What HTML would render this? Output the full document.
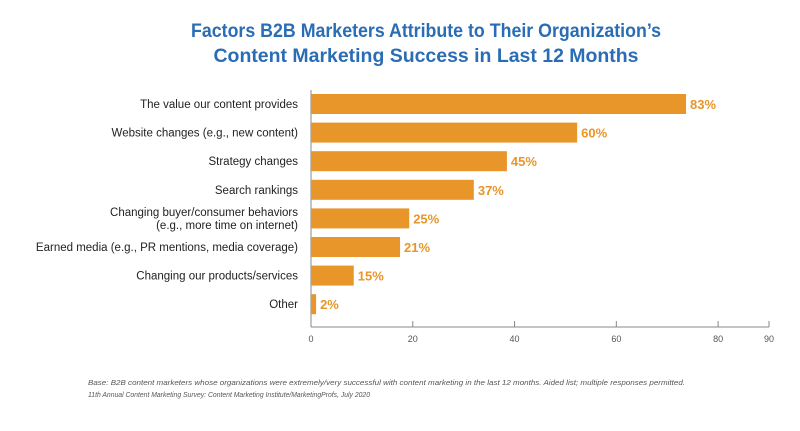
<!DOCTYPE html>
<html><head><meta charset="utf-8"><style>
body{margin:0;background:#fff;width:800px;height:426px;overflow:hidden;font-family:"Liberation Sans",sans-serif}
</style></head><body>
<svg width="800" height="426">
<text x="426" y="37" text-anchor="middle" font-size="19" font-weight="bold" fill="#2a6db5" textLength="470" lengthAdjust="spacingAndGlyphs">Factors B2B Marketers Attribute to Their Organization’s</text>
<text x="426" y="62" text-anchor="middle" font-size="19" font-weight="bold" fill="#2a6db5" textLength="425" lengthAdjust="spacingAndGlyphs">Content Marketing Success in Last 12 Months</text>
<g id="plot"></g>
<text x="88" y="385" font-size="7.5" font-style="italic" fill="#555" textLength="597" lengthAdjust="spacingAndGlyphs">Base: B2B content marketers whose organizations were extremely/very successful with content marketing in the last 12 months. Aided list; multiple responses permitted.</text>
<text x="88" y="397" font-size="7.5" font-style="italic" fill="#555" textLength="282" lengthAdjust="spacingAndGlyphs">11th Annual Content Marketing Survey: Content Marketing Institute/MarketingProfs, July 2020</text>
</svg>
<script>
const categories=[["The value our content provides"],["Website changes (e.g., new content)"],["Strategy changes"],["Search rankings"],["Changing buyer/consumer behaviors","(e.g., more time on internet)"],["Earned media (e.g., PR mentions, media coverage)"],["Changing our products/services"],["Other"]];
const barValues=[73.7,52.3,38.5,32,19.3,17.5,8.4,1];
const valueLabels=["83%","60%","45%","37%","25%","21%","15%","2%"];
const ticks=[0,20,40,60,80,90];
const NS="http://www.w3.org/2000/svg",g=document.getElementById('plot');
const x=v=>311+v*(458/90), y=i=>104+i*28.6;
function mk(t,a){const e=document.createElementNS(NS,t);for(const k in a)e.setAttribute(k,a[k]);g.appendChild(e);return e;}
let ax=mk('line',{x1:311,y1:90,x2:311,y2:327,stroke:'#888','stroke-width':1});


let bx=mk('line',{x1:311,y1:327,x2:769,y2:327,stroke:'#888','stroke-width':1});


ticks.forEach(t=>{
 let l=mk('line',{x1:x(t),y1:321,x2:x(t),y2:327,stroke:'#888'});
 
 
 let tx=mk('text',{x:x(t),y:342,'text-anchor':'middle','font-size':9,fill:'#555'});tx.textContent=t;
 
 
});
categories.forEach((c,i)=>{
 let r=mk('rect',{x:311,y:y(i)-10,width:x(barValues[i])-311,height:20,fill:'#e8952a'});
 
 
 let v=mk('text',{x:x(barValues[i])+4,y:y(i)+5,'font-size':13,'font-weight':'bold',fill:'#e8952a'});v.textContent=valueLabels[i];
 
 
 c.forEach((line,j)=>{
  let t=mk('text',{x:298,y:y(i)+4+(j-(c.length-1)/2)*13,'text-anchor':'end','font-size':11.5,fill:'#222'});t.textContent=line;
  
  
 });
});
</script>
</body></html>
